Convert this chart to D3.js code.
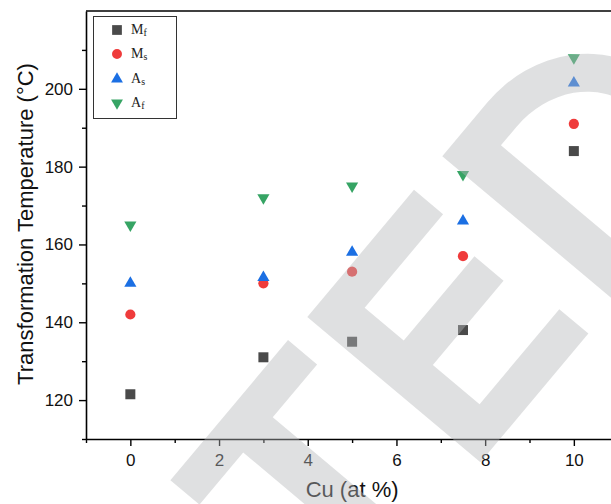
<!DOCTYPE html>
<meta charset="utf-8">
<script src="https://d3js.org/d3.v7.min.js"></script>
<style>
  body { margin: 0; background: #fff; }
  text { font-family: "Liberation Sans", Arial, sans-serif; }
</style>
<body>
<div id="my_visual"></div>
<script>

// Cu content (at %)
var cu = [0, 3, 5, 7.5, 10];

// transformation temperatures (°C)
var mf = [121.5, 131, 135, 138, 184];
var ms = [142, 150, 153, 157, 191];
var as = [150, 151.5, 158, 166, 201.5];
var af = [165, 172, 175, 178, 208];

var xMajor = [0, 2, 4, 6, 8, 10];
var xMinor = [-1, 1, 3, 5, 7, 9];
var yMajor = [120, 140, 160, 180, 200];
var yMinor = [110, 130, 150, 170, 190, 210];

var seriesNames = [["M", "f"], ["M", "s"], ["A", "s"], ["A", "f"]];

var W = 611, H = 504;
var plotLeft = 86, plotTop = 11, plotBottom = 439;

var svg = d3.select("#my_visual")
  .append("svg")
    .attr("width", W)
    .attr("height", H);

var x = d3.scaleLinear().domain([-1, 11]).range([plotLeft, plotLeft + 12 * 44.35]);
var y = d3.scaleLinear().domain([110, 220]).range([plotBottom, plotTop]);

// frame top / right
svg.append("line").attr("x1", plotLeft).attr("x2", x(11)).attr("y1", plotTop).attr("y2", plotTop)
  .attr("stroke", "#000").attr("stroke-width", 1.6);
svg.append("line").attr("x1", x(11)).attr("x2", x(11)).attr("y1", plotTop).attr("y2", plotBottom)
  .attr("stroke", "#000").attr("stroke-width", 1.6);

// x axis
var gx = svg.append("g").attr("transform", "translate(0," + plotBottom + ")");
gx.call(d3.axisBottom(x).tickValues(xMajor).tickSize(7).tickSizeOuter(0).tickPadding(8));
svg.append("g").attr("transform", "translate(0," + plotBottom + ")")
  .call(d3.axisBottom(x).tickValues(xMinor).tickSize(4).tickFormat(""))
  .select(".domain").remove();

// y axis
var gy = svg.append("g").attr("transform", "translate(" + plotLeft + ",0)");
gy.call(d3.axisLeft(y).tickValues(yMajor).tickSize(7).tickSizeOuter(0).tickPadding(6));
svg.append("g").attr("transform", "translate(" + plotLeft + ",0)")
  .call(d3.axisLeft(y).tickValues(yMinor).tickSize(4).tickFormat(""))
  .select(".domain").remove();

svg.selectAll(".domain").attr("stroke-width", 1.6);
svg.selectAll(".tick line").attr("stroke-width", 1.4);
svg.selectAll(".tick text")
  .style("font-family", "'Liberation Sans', Arial, sans-serif")
  .style("font-size", "17px")
  .attr("fill", "#111");

// axis titles
svg.append("text")
  .attr("x", (plotLeft + x(11)) / 2)
  .attr("y", 497)
  .attr("text-anchor", "middle")
  .style("font-size", "22px")
  .attr("fill", "#111")
  .text("Cu (at %)");

svg.append("text")
  .attr("transform", "translate(33," + ((plotTop + plotBottom) / 2 - 1) + ") rotate(-90)")
  .attr("text-anchor", "middle")
  .style("font-size", "22px")
  .attr("fill", "#111")
  .text("Transformation Temperature (°C)");

// markers
var styles = [
  {data: mf, color: "#4a4a4a", sym: d3.symbolSquare, size: 100, rot: 0},
  {data: ms, color: "#ef3b3b", sym: d3.symbolCircle, size: 82, rot: 0},
  {data: as, color: "#1b6fe3", sym: d3.symbolTriangle, size: 64, rot: 0},
  {data: af, color: "#36a464", sym: d3.symbolTriangle, size: 64, rot: 180}
];

styles.forEach(function(s) {
  svg.append("g")
    .selectAll("path")
    .data(s.data)
    .enter()
    .append("path")
      .attr("d", d3.symbol().type(s.sym).size(s.size))
      .attr("transform", function(d, i) {
        return "translate(" + x(cu[i]) + "," + y(d) + ") rotate(" + s.rot + ")";
      })
      .attr("fill", s.color);
});

// legend
var lg = svg.append("g");
lg.append("rect").attr("x", 93.5).attr("y", 16.5).attr("width", 83).attr("height", 102)
  .attr("fill", "#fff").attr("stroke", "#333").attr("stroke-width", 1);
var legY = [30, 54, 79, 103];
styles.forEach(function(s, i) {
  lg.append("path")
    .attr("d", d3.symbol().type(s.sym).size(s.size * 0.95))
    .attr("transform", "translate(117," + legY[i] + ") rotate(" + s.rot + ")")
    .attr("fill", s.color);
  var t = lg.append("text")
    .attr("x", 131)
    .attr("y", legY[i] + 4)
    .style("font-family", "'Liberation Serif', 'Times New Roman', serif")
    .style("font-size", "14px")
    .attr("fill", "#222");
  t.append("tspan").text(seriesNames[i][0]);
  t.append("tspan").attr("dy", 2).style("font-size", "10px").text(seriesNames[i][1]);
});

// watermark overlay (rotated "TED" letters)
var wm = svg.append("g")
  .attr("transform", "translate(288,340) rotate(-50)")
  .attr("fill", "#b4b6ba")
  .attr("fill-opacity", 0.43);
// T
wm.append("path").attr("d", "M-183,0H0V38H-69V226H-115V38H-183Z");
// E
wm.append("path").attr("d",
  "M30,0H196V38H74V89H184V127H74V188H198V226H30Z");
// D
wm.append("path").attr("fill-rule", "evenodd").attr("d",
  "M240,0H310A127,113 0 0 1 310,226H240Z" +
  "M286,38H310A89,75 0 0 1 310,188H286Z");

</script>
</body>
</html>
